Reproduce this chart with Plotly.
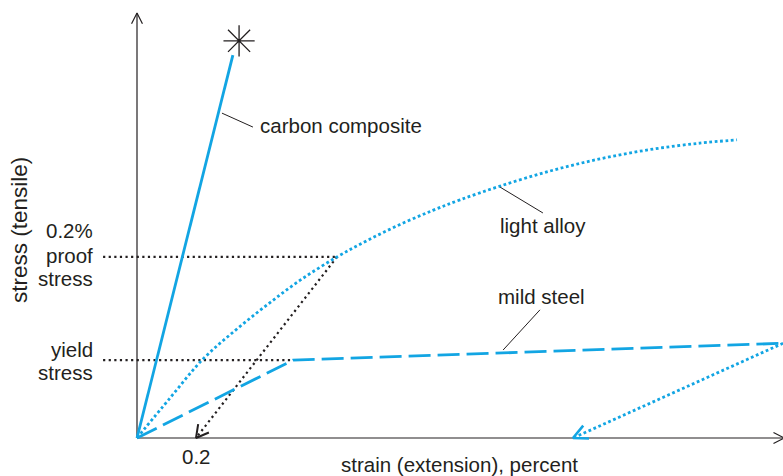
import math
import plotly.graph_objects as go

# ---------------- data (strain in percent, stress in arbitrary units) ----------------
carbon_strain = [0.0, 0.325]
carbon_stress = [0.0, 90.5]
fracture_strain = [0.346]
fracture_stress = [93.9]

steel_strain = [0.0, 0.529, 2.19]
steel_stress = [0.0, 18.4, 22.4]
steel_unload_strain = [2.19, 1.478]
steel_unload_stress = [22.4, 0.0]

alloy_strain = [0.0, 0.112, 0.224, 0.332, 0.441, 0.553, 0.678, 0.780, 0.892,
                1.003, 1.095, 1.231, 1.400, 1.569, 1.739, 1.908, 2.034]
alloy_stress = [0.0, 9.46, 18.68, 25.38, 31.48, 37.30, 42.80, 46.68, 50.49,
                53.82, 56.30, 59.56, 63.11, 65.98, 68.19, 69.71, 70.47]

offset_strain = [0.678, 0.2]
offset_stress = [42.8, 0.0]

yield_stress = 18.4
proof_stress = 42.8
yield_strain = 0.529
proof_strain = 0.678
guide_start = -0.115

tick_vals = [0.2]
tick_text = ["0.2"]

x_title = "strain (extension), percent"
y_title = "stress (tensile)"

# ---------------- layout geometry ----------------
W, H = 783, 476
XR = [-137 / 295, 646 / 295]
YR = [-38 / 4.23, 438 / 4.23]
PX_X = W / (XR[1] - XR[0])
PX_Y = H / (YR[1] - YR[0])

BLUE = "#12A5E3"
INK = "#231F20"
FONT = "Liberation Sans, Arial, sans-serif"
FS = 20.5


def vhead(tip_x, tip_y, from_x, from_y, length, angle_deg):
    dx = (tip_x - from_x) * PX_X
    dy = (tip_y - from_y) * PX_Y
    n = math.hypot(dx, dy)
    bx, by = -dx / n, -dy / n
    xs, ys = [], []
    for s in (1, -1):
        a = math.radians(angle_deg) * s
        vx = bx * math.cos(a) - by * math.sin(a)
        vy = bx * math.sin(a) + by * math.cos(a)
        xs.append(tip_x + length * vx / PX_X)
        ys.append(tip_y + length * vy / PX_Y)
    return [xs[0], tip_x, xs[1]], [ys[0], tip_y, ys[1]]


fig = go.Figure()


def line(x, y, color, width, dash="solid", shape="linear"):
    fig.add_trace(go.Scatter(x=x, y=y, mode="lines",
                             line=dict(color=color, width=width, dash=dash, shape=shape),
                             hoverinfo="skip", showlegend=False))


# axes
x_end = XR[1] + 0.004
y_end = (438 - 13) / 4.23
line([0, x_end], [0, 0], INK, 1.2)
line([0, 0], [0, y_end], INK, 1.2)
hx, hy = vhead(x_end, 0, 0, 0, 12, 27)
line(hx, hy, INK, 1.2)
hx, hy = vhead(0, y_end, 0, 0, 12, 27)
line(hx, hy, INK, 1.2)

# guide lines
line([guide_start, yield_strain], [yield_stress, yield_stress], INK, 2.2, "2.2px,3.4px")
line([guide_start, proof_strain], [proof_stress, proof_stress], INK, 2.2, "2.2px,3.4px")
line(offset_strain, offset_stress, INK, 2.2, "2.2px,3.4px")
hx, hy = vhead(offset_strain[1], offset_stress[1], offset_strain[0], offset_stress[0], 14, 29)
line(hx, hy, INK, 2)

# curves
line(alloy_strain, alloy_stress, BLUE, 2.8, "2.8px,2.6px", "spline")
line(steel_strain, steel_stress, BLUE, 2.8, "22px,7px")
line(steel_unload_strain, steel_unload_stress, BLUE, 2.8, "2.8px,2.6px")
hx, hy = vhead(steel_unload_strain[1], steel_unload_stress[1],
               steel_unload_strain[0], steel_unload_stress[0], 16, 26)
line(hx, hy, BLUE, 2.6)
line(carbon_strain, carbon_stress, BLUE, 2.8)

fig.add_trace(go.Scatter(x=fracture_strain, y=fracture_stress, mode="markers",
                         marker=dict(symbol="asterisk-open", size=26, color=INK,
                                     line=dict(color=INK, width=1.3)),
                         hoverinfo="skip", showlegend=False))

# leader lines
for (x0, y0, x1, y1) in [(0.288, 76.8, 0.393, 73.5),
                         (1.231, 59.3, 1.376, 53.2),
                         (1.241, 20.8, 1.366, 30.3)]:
    fig.add_shape(type="line", x0=x0, y0=y0, x1=x1, y1=y1,
                  line=dict(color=INK, width=1))


def px2x(px):
    return (px - 137) / 295


def py2y(py):
    return (438 - py) / 4.23


ann = []


def text(t, px, py, xanchor="left", size=FS, angle=0):
    ann.append(dict(text=t, x=px2x(px), y=py2y(py), xref="x", yref="y",
                    showarrow=False, xanchor=xanchor, yanchor="middle",
                    textangle=angle, font=dict(family=FONT, size=size, color=INK)))


text("carbon composite", 258, 125)
text("light alloy", 498, 225)
text("mild steel", 496, 296)
text("0.2%", 95, 230, "right")
text("proof", 95, 255, "right")
text("stress", 95, 278, "right")
text("yield", 95, 349, "right")
text("stress", 95, 372, "right")
for v, t in zip(tick_vals, tick_text):
    ann.append(dict(text=t, x=v, y=py2y(456), xref="x", yref="y", showarrow=False,
                    xanchor="center", yanchor="middle",
                    font=dict(family=FONT, size=FS, color=INK)))
text(x_title, 459, 464, "center")
text(y_title, 19, 230, "center", size=22.5, angle=-90)

fig.update_layout(
    width=W, height=H,
    margin=dict(l=0, r=0, t=0, b=0),
    paper_bgcolor="white", plot_bgcolor="white",
    xaxis=dict(range=XR, visible=False, fixedrange=True),
    yaxis=dict(range=YR, visible=False, fixedrange=True),
    annotations=ann,
    showlegend=False,
)

fig.write_html("out.html", config={"displayModeBar": False},
               post_script="document.body.style.margin='0px';")
